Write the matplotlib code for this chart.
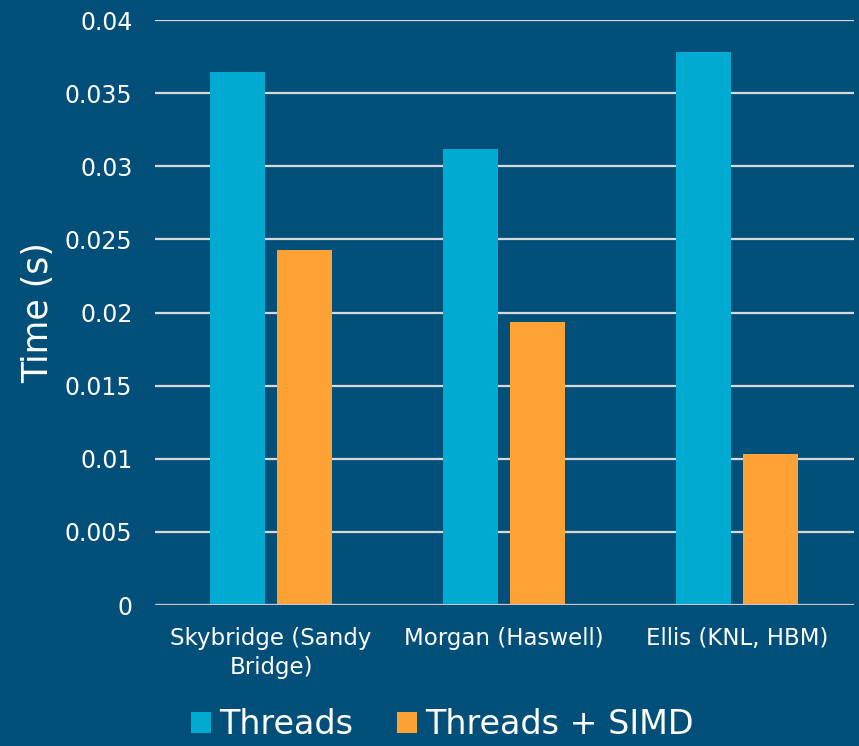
import matplotlib.pyplot as plt
import numpy as np
from matplotlib.ticker import FuncFormatter, MultipleLocator

# machines and timings
machines = ['Skybridge (Sandy\nBridge)', 'Morgan (Haswell)', 'Ellis (KNL, HBM)']
threads = [0.03645, 0.0312, 0.0378]
threads_simd = [0.0243, 0.01935, 0.01033]

bg = '#02507A'
cyan = '#00AAD0'
orange = '#FFA235'
grid = '#D9D9D9'

plt.rcParams['font.family'] = ['DejaVu Sans']

fig = plt.figure(figsize=(8.59, 7.46), dpi=100, facecolor=bg)
ax = fig.add_axes([0.180, 0.189, 0.814, 0.784], facecolor=bg)

x = np.arange(len(machines))
w = 0.236
off = 0.144
ax.bar(x - off, threads, w, color=cyan, label='Threads', zorder=3)
ax.bar(x + off, threads_simd, w, color=orange, label='Threads + SIMD', zorder=3)

ax.set_xlim(-0.5, 2.5)
ax.set_ylim(0, 0.04)
ax.yaxis.set_major_locator(MultipleLocator(0.005))
ax.yaxis.set_major_formatter(FuncFormatter(lambda v, p: '%g' % round(v, 4)))
ax.grid(axis='y', color=grid, linewidth=1.6, zorder=0)
for s in ax.spines.values():
    s.set_visible(False)
ax.axhline(0, color='#C8C8C8', linewidth=2.2, zorder=4)

ax.set_xticks(x)
ax.set_xticklabels(machines, fontsize=16.5, color='white', linespacing=1.31)
ax.tick_params(axis='both', length=0, colors='white')
ax.tick_params(axis='y', labelsize=17, pad=16)
ax.tick_params(axis='x', pad=16)
ax.set_ylabel('Time (s)', fontsize=25, color='white')
ax.yaxis.set_label_coords(-0.143, 0.5)

leg = fig.legend(loc='lower center', bbox_to_anchor=(0.515, -0.034), ncol=2, frameon=False,
                 fontsize=24, handlelength=0.6, handleheight=0.6, handletextpad=0.24,
                 columnspacing=1.3)
for t in leg.get_texts():
    t.set_color('white')

fig.savefig('out.png', dpi=100, facecolor=bg)
